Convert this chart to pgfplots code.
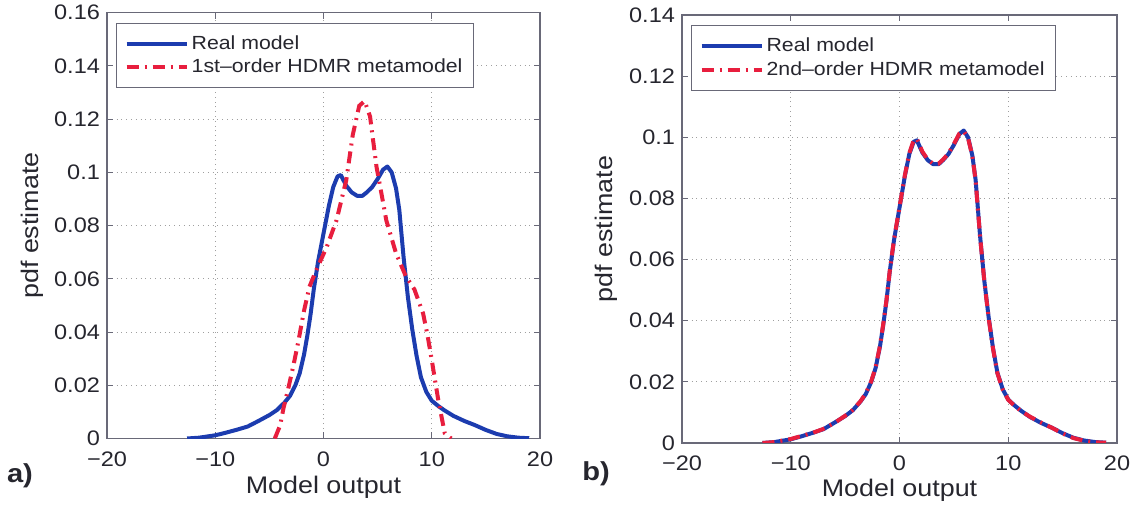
\documentclass[border=0pt]{standalone}
\usepackage{fontspec}
\setmainfont[FakeStretch=1.12]{Liberation Sans}
\usepackage{pgfplots}
\pgfplotsset{compat=1.18}
\usepackage{pgfplotstable}

\definecolor{mblue}{RGB}{28,60,175}
\definecolor{mred}{RGB}{232,30,62}
\definecolor{axgray}{RGB}{105,105,120}
\definecolor{txt}{RGB}{38,38,46}

\pgfplotstableread{
x y
-12.6 0
-11.5 0.0003
-10 0.0012
-9 0.0022
-8 0.0033
-7 0.0045
-6 0.0066
-5 0.0088
-4.3 0.0107
-3.6 0.0135
-3.1 0.0160
-2.6 0.0200
-2.2 0.0245
-1.8 0.0315
-1.5 0.0385
-1.2 0.0465
-0.9 0.0560
-0.5 0.0665
0 0.0770
0.5 0.0875
0.9 0.0945
1.3 0.0985
1.6 0.0990
2.1 0.0950
2.6 0.0925
3.1 0.0912
3.6 0.0912
4.0 0.0925
4.5 0.0945
5.0 0.0975
5.5 0.1010
5.9 0.1022
6.3 0.1000
6.7 0.0940
7.0 0.0860
7.4 0.0680
7.8 0.0530
8.2 0.0410
8.6 0.0310
9.0 0.0230
9.5 0.0175
10.0 0.0142
10.6 0.0122
11.2 0.0105
12 0.0085
13 0.0066
14 0.0050
15 0.0032
16 0.0017
17 0.0008
18 0.0003
19 0.0001
}\realmodel

\pgfplotstableread{
x y
-4.5 0
-4.0 0.0050
-3.7 0.0113
-3.3 0.0180
-2.8 0.0270
-2.3 0.0370
-1.8 0.0480
-1.3 0.0570
-0.7 0.0630
0.3 0.0720
1.2 0.0820
2.1 0.0970
2.7 0.1140
3.3 0.1250
3.8 0.1268
4.3 0.1210
4.9 0.1020
5.4 0.0910
5.8 0.0820
6.7 0.0696
7.6 0.0610
8.4 0.0560
9.2 0.0470
9.6 0.0390
10.0 0.0295
10.6 0.0145
11.2 0.0020
11.8 0
}\firstorder

\pgfplotstableread{
x y
-12.6 0
-11.5 0.0003
-10 0.0013
-9 0.0023
-8 0.0033
-7 0.0046
-6 0.0065
-5 0.0089
-4.3 0.0108
-3.6 0.0136
-3.1 0.0162
-2.6 0.0202
-2.2 0.0247
-1.8 0.0318
-1.5 0.0388
-1.2 0.0467
-0.9 0.0562
-0.5 0.0667
0 0.0772
0.5 0.0877
0.9 0.0948
1.3 0.0990
1.6 0.0995
2.1 0.0953
2.6 0.0927
3.1 0.0913
3.6 0.0914
4.0 0.0927
4.5 0.0947
5.0 0.0978
5.5 0.1012
5.9 0.1020
6.3 0.0998
6.7 0.0938
7.0 0.0858
7.4 0.0678
7.8 0.0528
8.2 0.0408
8.6 0.0308
9.0 0.0228
9.5 0.0174
10.0 0.0141
10.6 0.0121
11.2 0.0104
12 0.0086
13 0.0067
14 0.0050
15 0.0031
16 0.0016
17 0.0007
18 0.0002
19 0.0001
}\secondorder

\pgfplotsset{
  mystyle/.style={
    scale only axis,
    anchor=south west,
    xmin=-20, xmax=20, ymin=0,
    xtick={-20,-10,0,10,20},
    xticklabels={−20,−10,0,10,20},
    scaled ticks=false,
    tick align=inside,
    major tick length=3pt,
    grid=major,
    major grid style={dotted, color=gray!75, line width=0.5pt},
    axis line style={draw=axgray, line width=0.6pt},
    every tick/.style={draw=axgray, line width=0.5pt},
    tick label style={font=\fontsize{10.5}{12}\selectfont, text=txt},
    xticklabel style={yshift=-3pt},
    label style={font=\fontsize{12}{14}\selectfont, text=txt},
    xlabel={Model output},
    ylabel={pdf estimate},
    legend cell align=left,
    legend image code/.code={\draw[##1] (0pt,0pt) -- (30pt,0pt);},
    legend style={anchor=north west, draw=axgray, line width=0.6pt,
      font=\fontsize{9.5}{11}\selectfont, text=txt,
      inner xsep=4pt, inner ysep=4.5pt, row sep=0.5pt,
      nodes={inner sep=1.5pt}},
  },
  realstyle/.style={color=mblue, line width=2pt, line join=round},
  hdmrstyle/.style={color=mred, line width=2pt, dash pattern=on 6pt off 3pt on 1pt off 3pt},
}

\begin{document}
\begin{tikzpicture}
\path[use as bounding box] (0pt,0pt) rectangle (569pt,253pt);

\begin{axis}[mystyle,
  at={(53.5pt,33.75pt)}, width=216.5pt, height=212.9pt,
  ymax=0.16,
  ytick={0,0.02,0.04,0.06,0.08,0.1,0.12,0.14,0.16},
  yticklabels={0,0.02,0.04,0.06,0.08,0.1,0.12,0.14,0.16},
  xlabel style={at={(axis description cs:0.5,-0.114)}, anchor=center},
  ylabel style={at={(axis description cs:-0.173,0.5)}, anchor=center},
  legend style={at={(axis description cs:0.021,0.9765)}},
]
\addplot[realstyle] table[x=x,y=y] {\realmodel};
\addlegendentry{Real model}
\addplot[hdmrstyle] table[x=x,y=y] {\firstorder};
\addlegendentry{1st–order HDMR metamodel}
\end{axis}

\begin{axis}[mystyle,
  at={(341pt,31.5pt)}, width=217.5pt, height=214pt,
  ymax=0.14,
  ytick={0,0.02,0.04,0.06,0.08,0.1,0.12,0.14},
  yticklabels={0,0.02,0.04,0.06,0.08,0.1,0.12,0.14},
  xlabel style={at={(axis description cs:0.5,-0.110)}, anchor=center},
  ylabel style={at={(axis description cs:-0.175,0.5)}, anchor=center},
  legend style={at={(axis description cs:0.0207,0.9766)}},
]
\addplot[realstyle] table[x=x,y=y] {\realmodel};
\addlegendentry{Real model}
\addplot[hdmrstyle] table[x=x,y=y] {\secondorder};
\addlegendentry{2nd–order HDMR metamodel}
\end{axis}

\node[font=\bfseries\fontsize{13}{15}\selectfont, text=txt] at (10pt,15pt) {a)};
\node[font=\bfseries\fontsize{13}{15}\selectfont, text=txt] at (298pt,16pt) {b)};
\end{tikzpicture}
\end{document}
